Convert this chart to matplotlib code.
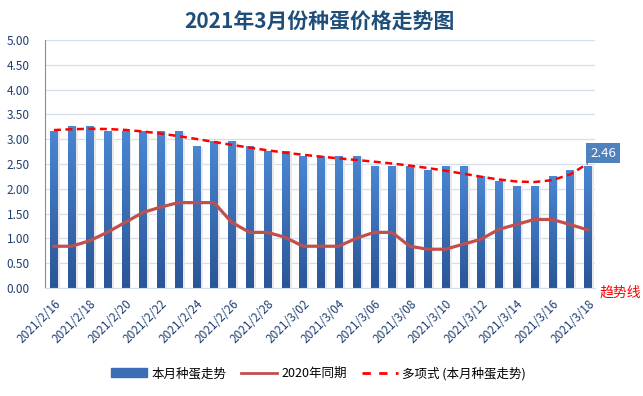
import numpy as np
import matplotlib
matplotlib.use('Agg')
import matplotlib.pyplot as plt
from matplotlib.colors import LinearSegmentedColormap
from matplotlib.patches import Patch
from matplotlib.lines import Line2D

plt.rcParams['font.family'] = ['Noto Sans CJK SC', 'DejaVu Sans']

# 数据
dates = ['2021/2/16', '2021/2/17', '2021/2/18', '2021/2/19', '2021/2/20', '2021/2/21',
         '2021/2/22', '2021/2/23', '2021/2/24', '2021/2/25', '2021/2/26', '2021/2/27',
         '2021/2/28', '2021/3/01', '2021/3/02', '2021/3/03', '2021/3/04', '2021/3/05',
         '2021/3/06', '2021/3/07', '2021/3/08', '2021/3/09', '2021/3/10', '2021/3/11',
         '2021/3/12', '2021/3/13', '2021/3/14', '2021/3/15', '2021/3/16', '2021/3/17',
         '2021/3/18']
price_2021 = [3.15, 3.25, 3.25, 3.15, 3.15, 3.15, 3.15, 3.15, 2.85, 2.95, 2.95, 2.85,
              2.75, 2.75, 2.65, 2.65, 2.65, 2.65, 2.45, 2.45, 2.45, 2.36, 2.45, 2.45,
              2.25, 2.15, 2.05, 2.05, 2.25, 2.36, 2.46]
price_2020 = [0.84, 0.84, 0.95, 1.12, 1.32, 1.52, 1.63, 1.72, 1.72, 1.72, 1.32, 1.12,
              1.12, 1.02, 0.84, 0.84, 0.84, 1.00, 1.12, 1.12, 0.84, 0.78, 0.78, 0.88,
              0.98, 1.18, 1.28, 1.38, 1.38, 1.28, 1.17]
yticks = [0, 0.5, 1, 1.5, 2, 2.5, 3, 3.5, 4, 4.5, 5]

x = np.arange(len(dates))
coef = np.polyfit(x, price_2021, 6)
trend = np.polyval(coef, x)

fig = plt.figure(figsize=(6.43, 3.96), dpi=100)
ax = fig.add_axes([0.07, 0.273, 0.855, 0.626])

navy = '#1F3F73'
cmap = LinearSegmentedColormap.from_list('bar', ['#2B5597', '#4A86D2'])
grad = np.linspace(0, 1, 100).reshape(-1, 1)
w = 0.4
for xi, v in zip(x, price_2021):
    # 阴影
    ax.bar(xi + w / 2 + 0.08, v, width=0.16, color='#E8E8E8', zorder=1)
    ax.imshow(grad, extent=[xi - w / 2, xi + w / 2, 0, v], origin='lower',
              cmap=cmap, aspect='auto', zorder=2)

ax.plot(x, price_2020, color='#C0504D', lw=2.3, zorder=3)
ax.plot(x, trend, color='#FF0000', lw=1.8, ls=(0, (2.8, 1.8)), zorder=4)

ax.set_xlim(-0.5, 30.4)
ax.set_ylim(0, 5)
ax.set_yticks(yticks)
ax.set_yticklabels(['%.2f' % t for t in yticks], fontsize=8.5, color=navy)
ax.yaxis.grid(True, color='#D5DFEC', lw=0.9)
ax.set_axisbelow(True)
ax.set_xticks(x[::2])
ax.set_xticklabels(dates[::2], rotation=45, ha='right', rotation_mode='anchor',
                   fontsize=8.5, color=navy)
ax.tick_params(length=0, pad=7)
ax.tick_params(axis='y', pad=11)
for s in ['top', 'right']:
    ax.spines[s].set_visible(False)
ax.spines['left'].set_color('#8C8C8C')
ax.spines['bottom'].set_color('#D5DFEC')

ax.text(30.15, 2.72, '2.46', ha='left', va='center', color='white', fontsize=9.5,
        bbox=dict(boxstyle='square,pad=0.3', fc='#4F81BD', ec='none'), clip_on=False)
fig.text(0.933, 0.262, '趋势线', color='red', fontsize=10, ha='left', va='center')

fig.suptitle('2021年3月份种蛋价格走势图', x=0.497, y=0.97, fontsize=15,
             fontweight='bold', color='#1F4E79')

handles = [Patch(color='#3A6FB8'),
           Line2D([], [], color='#C0504D', lw=2),
           Line2D([], [], color='#FF0000', lw=2, ls=(0, (3, 3)))]
labels = ['本月种蛋走势', '2020年同期', '多项式 (本月种蛋走势)']
fig.legend(handles, labels, loc='center', bbox_to_anchor=(0.495, 0.057), ncol=3,
           frameon=False, fontsize=9, handlelength=2.9, handleheight=0.7,
           columnspacing=1.2, handletextpad=0.3)

fig.savefig('out.png', dpi=100)
